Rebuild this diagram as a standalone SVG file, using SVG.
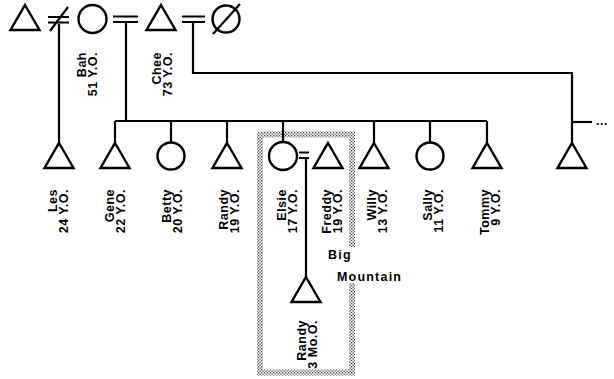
<svg xmlns="http://www.w3.org/2000/svg" width="614" height="379" viewBox="0 0 614 379">
<style>
.ln{stroke:#000;stroke-width:2.2;fill:none}
.sym{stroke:#000;stroke-width:2.4;fill:#fff;stroke-linejoin:miter}
.lbl{font-family:"Liberation Sans",Arial,sans-serif;font-size:12.5px;font-weight:bold;fill:#000;letter-spacing:0.5px}
.big{font-family:"Liberation Sans",Arial,sans-serif;font-size:12.5px;font-weight:bold;fill:#000;letter-spacing:1.2px}
</style>
<defs>
<path id="tri" d="M0,0 L14.5,25 L-14.5,25 Z"/>
<pattern id="stip" width="3" height="3" patternUnits="userSpaceOnUse">
<rect width="3" height="3" fill="#fff"/>
<rect width="1.3" height="1.3" fill="#444"/>
<rect x="1.5" y="1.5" width="1.3" height="1.3" fill="#444"/>
</pattern>
</defs>
<rect width="614" height="379" fill="#fff"/>

<g id="household-box">
<path d="M352,247 V134.5 H260 V372.5 H352 V283" stroke="url(#stip)" stroke-width="6" fill="none"/>
<text class="big" x="328" y="259">Big</text>
<text class="big" x="337" y="281">Mountain</text>
</g>

<g id="connectors">
<path class="ln" d="M48,17 H69 M48,22.5 H69 M50,31 L68,7"/>
<path class="ln" d="M113,16.5 H138 M113,22 H138"/>
<path class="ln" d="M182,16.5 H205 M182,22 H205"/>
<path class="ln" d="M299,152.5 H309 M299,158 H309"/>
<path class="ln" d="M59,24 V143"/>
<path class="ln" d="M126,22 V121"/>
<path class="ln" d="M193,22 V73 H572 V143"/>
<path class="ln" d="M115,121 H487"/>
<path class="ln" d="M115,121 V143 M171,121 V142.5 M227,121 V143 M283,121 V142 M374,121 V143 M430,121 V142.5 M487,121 V143"/>
<path class="ln" d="M572,122 H592"/>
<path class="ln" d="M306,158 V277"/>
<text class="lbl" x="596" y="125">...</text>
</g>

<g id="man-1"><use href="#tri" x="25" y="5" class="sym"/></g>
<g id="bah"><circle class="sym" cx="92.5" cy="19" r="14"/>
<text class="lbl" transform="translate(86,52) rotate(-90)" text-anchor="end"><tspan x="0" y="0">Bah</tspan><tspan x="0" dy="11">51 Y.O.</tspan></text></g>
<g id="chee"><use href="#tri" x="161" y="5" class="sym"/>
<text class="lbl" transform="translate(161,52) rotate(-90)" text-anchor="end"><tspan x="0" y="0">Chee</tspan><tspan x="0" dy="11">73 Y.O.</tspan></text></g>
<g id="deceased-woman"><circle class="sym" cx="226" cy="19" r="13.5"/><path class="ln" d="M213,34 L240,4"/></g>

<g id="les"><use href="#tri" x="59" y="143" class="sym"/>
<text class="lbl" transform="translate(57,189) rotate(-90)" text-anchor="end"><tspan x="0" y="0">Les</tspan><tspan x="0" dy="11">24 Y.O.</tspan></text></g>
<g id="gene"><use href="#tri" x="115" y="143" class="sym"/>
<text class="lbl" transform="translate(114,189) rotate(-90)" text-anchor="end"><tspan x="0" y="0">Gene</tspan><tspan x="0" dy="11">22 Y.O.</tspan></text></g>
<g id="betty"><circle class="sym" cx="171" cy="156" r="13.5"/>
<text class="lbl" transform="translate(171,189) rotate(-90)" text-anchor="end"><tspan x="0" y="0">Betty</tspan><tspan x="0" dy="11">20 Y.O.</tspan></text></g>
<g id="randy"><use href="#tri" x="227" y="143" class="sym"/>
<text class="lbl" transform="translate(228,189) rotate(-90)" text-anchor="end"><tspan x="0" y="0">Randy</tspan><tspan x="0" dy="11">19 Y.O.</tspan></text></g>
<g id="elsie"><circle class="sym" cx="283" cy="156" r="14"/>
<text class="lbl" transform="translate(286,189) rotate(-90)" text-anchor="end"><tspan x="0" y="0">Elsie</tspan><tspan x="0" dy="11">17 Y.O.</tspan></text></g>
<g id="freddy"><use href="#tri" x="328" y="143" class="sym"/>
<text class="lbl" transform="translate(331,189) rotate(-90)" text-anchor="end"><tspan x="0" y="0">Freddy</tspan><tspan x="0" dy="11">19 Y.O.</tspan></text></g>
<g id="willy"><use href="#tri" x="374" y="143" class="sym"/>
<text class="lbl" transform="translate(376,189) rotate(-90)" text-anchor="end"><tspan x="0" y="0">Willy</tspan><tspan x="0" dy="11">13 Y.O.</tspan></text></g>
<g id="sally"><circle class="sym" cx="430" cy="156" r="13.5"/>
<text class="lbl" transform="translate(432,189) rotate(-90)" text-anchor="end"><tspan x="0" y="0">Sally</tspan><tspan x="0" dy="11">11 Y.O.</tspan></text></g>
<g id="tommy"><use href="#tri" x="487" y="143" class="sym"/>
<text class="lbl" transform="translate(489,189) rotate(-90)" text-anchor="end"><tspan x="0" y="0">Tommy</tspan><tspan x="0" dy="11">9 Y.O.</tspan></text></g>
<g id="other-son"><use href="#tri" x="572" y="143" class="sym"/></g>
<g id="baby-randy"><use href="#tri" x="306" y="277" class="sym"/>
<text class="lbl" transform="translate(306,320) rotate(-90)" text-anchor="end"><tspan x="0" y="0">Randy</tspan><tspan x="0" dy="11">3 Mo.O.</tspan></text></g>
</svg>
